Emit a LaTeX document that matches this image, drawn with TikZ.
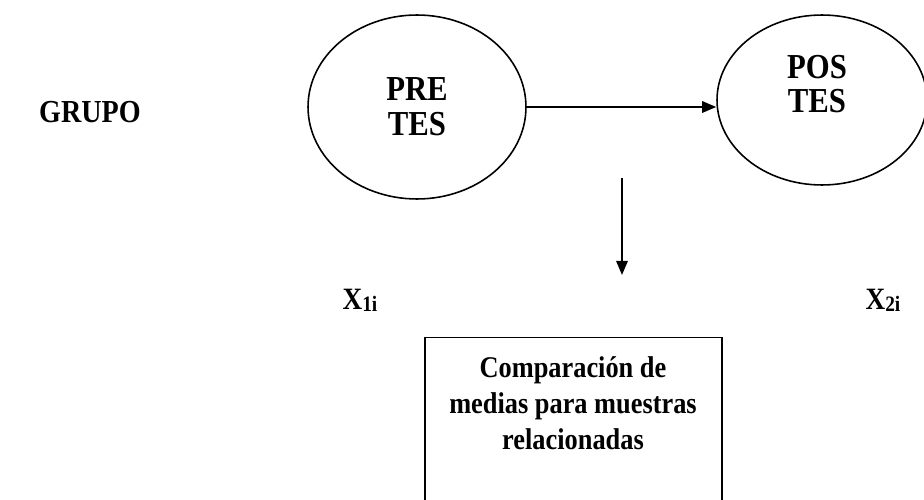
\documentclass[tikz,border=0pt]{standalone}
\usepackage{graphicx}
\usepackage{fontspec}
\setmainfont{Liberation Serif}
\usetikzlibrary{shapes.geometric,arrows.meta,positioning}

\newcommand{\alto}[1]{\scalebox{1}[1.14]{#1}}

\begin{document}
\begin{tikzpicture}
        [
            x = 0.02cm, y = -0.02cm,
            prueba/.style = {draw, ellipse, line width = 0.9pt, inner sep = 0pt},
            etiqueta/.style = {font = \fontsize{17.5}{19.8}\selectfont\bfseries, align = center},
            medida/.style = {font = \fontsize{15.5}{18}\selectfont\bfseries},
            flecha/.style = {line width = 1.1pt, -{Triangle[length = 8pt, width = 6.5pt]}}
        ]

        \clip (0,0) rectangle (924,500);

        \node[etiqueta, font = \fontsize{16}{19}\selectfont\bfseries] (grupo) at (90,112) {\alto{GRUPO}};

        \node[prueba, minimum width = 4.36cm, minimum height = 3.68cm] (pre) at (417,107) {};
        \node[etiqueta] (pretxt) at (pre) {\alto{PRE}\\\alto{TES}};

        \node[prueba, minimum width = 4.2cm, minimum height = 3.4cm] (pos) at (822,100) {};
        \node[etiqueta] (postxt) at (817,84) {\alto{POS}\\\alto{TES}};

        \draw[flecha] (pre.east) -- (pre.east -| pos.west);

        \coordinate (bajada) at (622,178);
        \coordinate (llegada) at (622,275);
        \draw[flecha] (bajada) -- (llegada);

        \node[medida] (xuno) at (360,300) {\alto{X\raisebox{-1pt}{\fontsize{11}{11}\selectfont 1i}}};
        \node[medida] (xdos) at (883,300) {\alto{X\raisebox{-1pt}{\fontsize{11}{11}\selectfont 2i}}};

        \node[draw, line width = 0.8pt, minimum width = 5.94cm, minimum height = 3.7cm, anchor = north] (caja) at (573.5,337) {};
        \node[font = \fontsize{15}{20.4}\selectfont\bfseries, align = center] (cajatxt) at (573,403)
            {\alto{Comparación de}\\\alto{medias para muestras}\\\alto{relacionadas}};
\end{tikzpicture}
\end{document}
